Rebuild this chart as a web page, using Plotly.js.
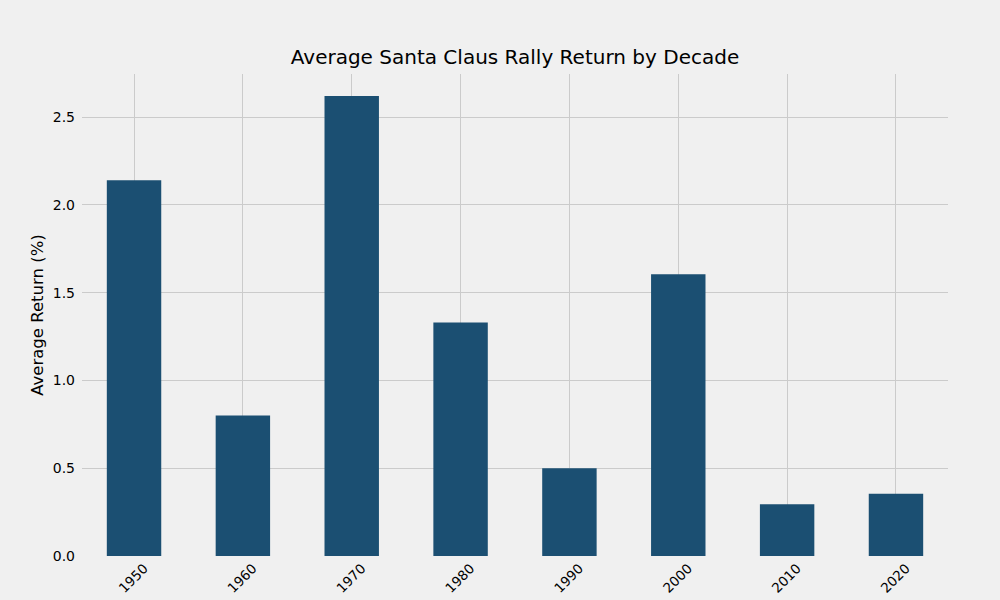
<!DOCTYPE html>
<html>
<head>
<meta charset="utf-8">
<script src="https://cdn.plot.ly/plotly-3.0.1.min.js"></script>
<style>html,body{margin:0;padding:0;background:#f0f0f0;}</style>
</head>
<body>
<div id="chart" style="width:1000px;height:600px;"></div>
<script>
const decades = ["1950", "1960", "1970", "1980", "1990", "2000", "2010", "2020"];
const avgReturn = [2.14, 0.80, 2.62, 1.33, 0.50, 1.605, 0.295, 0.355];
const yTicks = [0, 0.5, 1.0, 1.5, 2.0, 2.5];

const idx = decades.map((d, i) => i);

Plotly.newPlot('chart', [{
  type: 'bar',
  x: idx,
  y: avgReturn,
  width: 0.5,
  marker: {color: '#1b4f72'},
  hoverinfo: 'x+y'
}], {
  width: 1000, height: 600,
  paper_bgcolor: '#f0f0f0',
  plot_bgcolor: '#f0f0f0',
  font: {family: 'DejaVu Sans', color: '#000'},
  margin: {l: 82, r: 52, t: 74, b: 44, pad: 0},
  title: {text: 'Average Santa Claus Rally Return by Decade', font: {size: 20, color: '#000'}, x: 0.515, xanchor: 'center', y: 0.905, yanchor: 'middle'},
  xaxis: {
    range: [-0.478, 7.478],
    tickmode: 'array', tickvals: idx, ticktext: decades,
    tickangle: -45,
    tickfont: {size: 13.5},
    ticklabelshift: 10,
    ticklabelstandoff: 1,
    showgrid: true, gridcolor: '#cbcbcb', gridwidth: 1,
    zeroline: false, showline: false, ticks: '', fixedrange: true
  },
  yaxis: {
    range: [0, 2.745],
    tickmode: 'array', tickvals: yTicks, ticktext: yTicks.map(v => v.toFixed(1)),
    tickfont: {size: 14},
    showgrid: true, gridcolor: '#cbcbcb', gridwidth: 1,
    zeroline: false, showline: false, ticks: '',
    ticklabelstandoff: 6,
    title: {text: 'Average Return (%)', font: {size: 16.5}, standoff: 4}
  },
  bargap: 0.5,
  showlegend: false
}, {displayModeBar: false, staticPlot: true});
</script>
</body>
</html>
